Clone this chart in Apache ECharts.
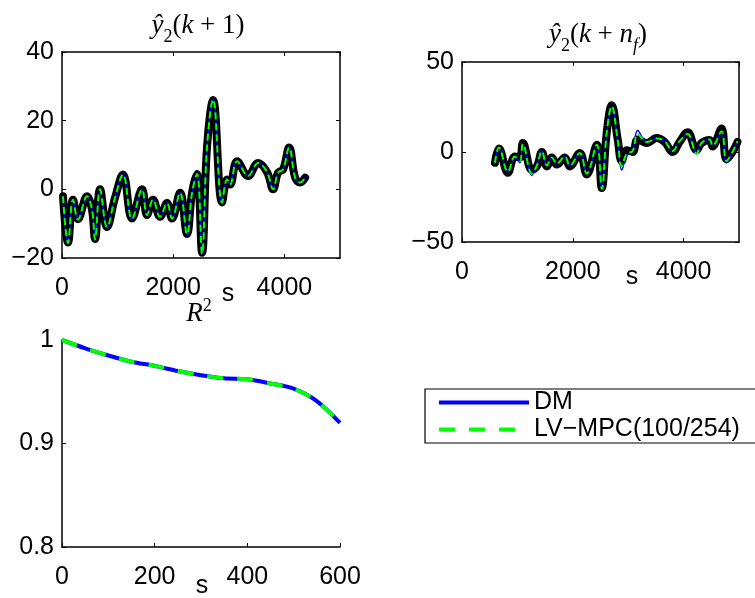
<!DOCTYPE html>
<html>
<head>
<meta charset="utf-8">
<script src="https://cdn.jsdelivr.net/npm/echarts@6/dist/echarts.min.js"></script>
<style>
html, body { margin: 0; padding: 0; background: #fff; }
#chart { width: 755px; height: 598px; }
</style>
</head>
<body>
<div id="chart"></div>
<script>
// top left: y2(k+1)
var tA = [18, 108, 198, 288, 450, 540, 594, 684, 810, 953, 1097, 1259, 1439, 1529, 1637, 1763, 1889, 1979, 2123, 2249,
  2339, 2429, 2519, 2609, 2717, 2879, 2969, 3023, 3149, 3347, 3527, 3689, 3797, 3887, 3977, 4085, 4193, 4283, 4373];
var yAMeas = [-2, -15.5, -3, -8.7, -2, -6, -14.5, 0, -11, -2.5, 4.3, -8.5, 0, -7.5, -3, -8, -4, -8.5, -1, -13,
  -1, 4.5, -18.5, 12.5, 26, -3.8, 2.9, 1.4, 8.2, 3.9, 7.7, 5, 0, 4.9, 5.8, 12.2, 3.4, 2, 3.4];
var yADM = [-2, -15.8, -3, -8.9, -2, -6, -14.8, 0, -11.2, -2.5, 4.3, -8.7, 0, -7.6, -3, -8.1, -4, -8.6, -1, -13.3,
  -1, 4.5, -19, 12.5, 26.3, -4, 2.9, 1.4, 8.2, 3.9, 7.7, 5, 0, 4.9, 5.8, 12.2, 3.4, 2, 3.4];
var yALV = [-2, -15.6, -3, -8.8, -2, -6, -14.6, 0, -11, -2.5, 4.3, -8.6, 0, -7.5, -3, -8, -4, -8.5, -1, -13.1,
  -1, 4.5, -18.8, 12.5, 26.2, -3.9, 2.9, 1.4, 8.2, 3.9, 7.7, 5, 0, 4.9, 5.8, 12.2, 3.4, 2, 3.4];

// top right: y2(k+nf)
var tB = [595, 667, 829, 955, 1045, 1099, 1261, 1352, 1442, 1532, 1622, 1712, 1856, 1946, 2126, 2252, 2433, 2523, 2613, 2703,
  2811, 2883, 2973, 3081, 3171, 3333, 3514, 3658, 3802, 3928, 4072, 4234, 4324, 4468, 4522, 4684, 4774, 4882, 4972];
var yBMeas = [-6, 2, -11.5, -2.5, -3, 5, -10, -8, 0, -8, -3, -7, -3, -8, -0.5, -12.5, 4, -20, 11, 26,
  7, -5, 1, 0, 7, 5, 7.8, 5.6, 0, 5.6, 11, 1, 5, 6.7, 3, 13, -4, 0, 5.6];
var yBDM = [-6, 2.5, -11, -2.5, -6, 4, -13, -7, 0.5, -7.5, -3, -6.5, -2.5, -7.5, -0.5, -12, 4, -20.5, 11, 25,
  6, -10, -2, 1, 12, 5.5, 7.5, 6, 1, 6, 10, -1, 5, 7, 3.5, 11, -6, 0, 6];
var yBLV = [-6, 2.5, -11, -2.5, -5, 4.5, -12, -7.5, 0.5, -7.5, -3, -6.5, -2.5, -7.5, -0.5, -12, 4, -20.5, 11, 25.5,
  6.5, -8, -1, 0.5, 10, 5.5, 7.5, 6, 0.5, 6, 10, -1, 5, 7, 3.5, 11.5, -5, 0, 6];

// bottom left: R^2
var tR = [0, 50, 100, 150, 200, 250, 300, 350, 400, 450, 500, 550, 600];
var rDM = [1.000, 0.992, 0.985, 0.979, 0.975, 0.970, 0.966, 0.963, 0.962, 0.958, 0.953, 0.941, 0.920];
var rLV = [1.000, 0.992, 0.985, 0.979, 0.975, 0.970, 0.966, 0.963, 0.962, 0.958, 0.953, 0.941, 0.920];

var xTicksTop = [0, 2000, 4000];
var yTicksA = [-20, 0, 20, 40];
var yTicksB = [-50, 0, 50];
var xTicksR = [0, 200, 400, 600];
var yTicksR = [0.8, 0.9, 1];

var legendNames = ['DM', 'LV\u2212MPC(100/254)'];

var font = 'Liberation Sans';
var serif = 'Liberation Serif';

function pairs(xs, ys) {
  return xs.map(function (x, i) { return [x, ys[i]]; });
}
function fmt(v) {
  return String(+v.toFixed(2)).replace('-', '\u2212');
}

function axis(grid, ticks, max, pos, labels) {
  return {
    type: 'value', gridIndex: grid, position: pos,
    min: ticks[0], max: max, interval: ticks[1] - ticks[0],
    axisLine: { show: true, onZero: false, lineStyle: { color: '#000', width: 1.5 } },
    axisTick: { show: true, inside: true, length: 4, lineStyle: { color: '#000', width: 1 } },
    axisLabel: { show: labels, formatter: fmt, color: '#000', fontFamily: font, fontSize: 25,
      margin: (pos == 'bottom' ? 18 : 8), showMaxLabel: (max == ticks[ticks.length - 1]) },
    splitLine: { show: false }
  };
}

var chart = echarts.init(document.getElementById('chart'));

var blackLine = { color: '#000', width: 8, cap: 'round', join: 'round' };
var blueLine = { color: '#0000ff', width: 1.5 };
var greenLine = { color: '#00ff00', width: 2, type: [7, 4] };

function line(name, xi, yi, data, style, smooth) {
  return { name: name, type: 'line', xAxisIndex: xi, yAxisIndex: yi, data: data,
    symbol: 'none', smooth: smooth, lineStyle: style, itemStyle: { color: style.color },
    silent: true, animation: false };
}

var rich = {
  i: { fontFamily: serif, fontStyle: 'italic', fontSize: 27, color: '#000' },
  r: { fontFamily: serif, fontSize: 27, color: '#000' },
  sub: { fontFamily: serif, fontSize: 18, color: '#000', padding: [22, 0, 0, 0] },
  subi: { fontFamily: serif, fontStyle: 'italic', fontSize: 18, color: '#000', padding: [22, 0, 0, 0] },
  sup: { fontFamily: serif, fontSize: 18, color: '#000', padding: [0, 0, 16, 0] }
};

function label(text, x, y, extra) {
  var st = { text: text, x: x, y: y, align: 'center', verticalAlign: 'middle',
    fill: '#000', font: '25px ' + font };
  if (extra) st.rich = extra;
  return { type: 'text', style: st, z: 10 };
}

chart.setOption({
  backgroundColor: '#fff',
  animation: false,
  grid: [
    { left: 62, top: 52, width: 278, height: 206 },
    { left: 462, top: 62, width: 277, height: 180 },
    { left: 62, top: 340, width: 278, height: 207 }
  ],
  xAxis: [
    axis(0, xTicksTop, 5000, 'bottom', true),
    axis(0, xTicksTop, 5000, 'top', false),
    axis(1, xTicksTop, 5000, 'bottom', true),
    axis(1, xTicksTop, 5000, 'top', false),
    axis(2, xTicksR, 600, 'bottom', true)
  ],
  yAxis: [
    axis(0, yTicksA, 40, 'left', true),
    axis(0, yTicksA, 40, 'right', false),
    axis(1, yTicksB, 50, 'left', true),
    axis(1, yTicksB, 50, 'right', false),
    axis(2, yTicksR, 1, 'left', true)
  ],
  legend: {
    data: legendNames,
    orient: 'vertical', left: 425, top: 389,
    itemWidth: 90, itemHeight: 14, itemGap: 2, itemTextGap: 6,
    padding: [1, 18, 1, 12],
    borderColor: '#000', borderWidth: 1.2, borderRadius: 0,
    backgroundColor: '#fff',
    lineStyle: { width: 4 },
    itemStyle: { color: 'rgba(0,0,0,0)', borderWidth: 0 },
    textStyle: { color: '#000', fontFamily: font, fontSize: 25 },
    selectedMode: false
  },
  graphic: [
    label('{i|ŷ}{sub|2}{r|(}{i|k}{r| + 1)}', 198, 26, rich),
    label('{i|ŷ}{sub|2}{r|(}{i|k}{r| + }{i|n}{subi|f}{r|)}', 598, 35, rich),
    label('{i|R}{sup|2}', 199, 314, rich),
    label('s', 228, 294),
    label('s', 632, 277),
    label('s', 202, 586)
  ],
  series: [
    line('measured k+1', 0, 0, pairs(tA, yAMeas), blackLine, 0.4),
    line('DM k+1', 0, 0, pairs(tA, yADM), blueLine, 0.4),
    line('LV k+1', 0, 0, pairs(tA, yALV), greenLine, 0.4),
    line('measured k+nf', 2, 2, pairs(tB, yBMeas), blackLine, 0.4),
    line('DM k+nf', 2, 2, pairs(tB, yBDM), blueLine, 0.4),
    line('LV k+nf', 2, 2, pairs(tB, yBLV), greenLine, 0.4),
    line(legendNames[0], 4, 4, pairs(tR, rDM), { color: '#0000ff', width: 4 }, 0.3),
    line(legendNames[1], 4, 4, pairs(tR, rLV), { color: '#00ff00', width: 4, type: [16, 14] }, 0.3)
  ]
});
</script>
</body>
</html>
